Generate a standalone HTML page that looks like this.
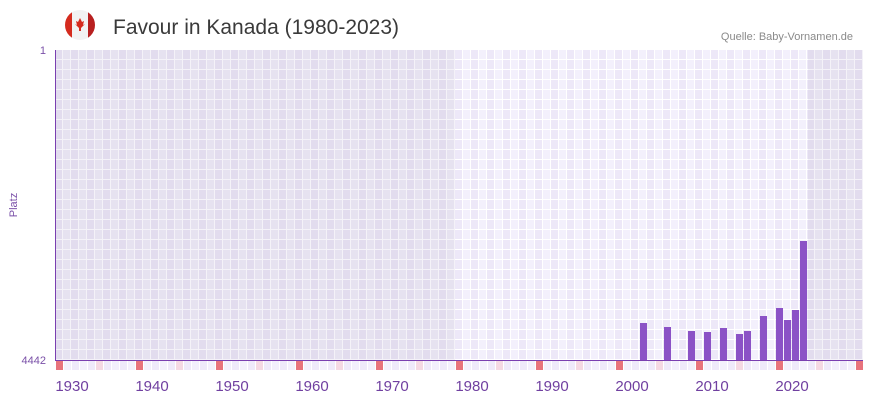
<!DOCTYPE html>
<html><head><meta charset="utf-8"><style>body{margin:0;background:#fff}svg{display:block;font-family:"Liberation Sans",sans-serif}</style></head>
<body>
<svg width="873" height="402" viewBox="0 0 873 402">
<defs>
<clipPath id="fc"><circle cx="80" cy="25" r="15"/></clipPath>
<pattern id="dk" x="55" y="50" width="16" height="10" patternUnits="userSpaceOnUse">
<rect width="16" height="10" fill="#f4f2f8"/><rect x="0" y="0" width="7" height="9" fill="#e2dcee"/><rect x="8" y="0" width="7" height="9" fill="#e6e2f0"/></pattern>
<pattern id="lt" x="55" y="50" width="16" height="10" patternUnits="userSpaceOnUse">
<rect width="16" height="10" fill="#fff"/><rect x="0" y="0" width="7" height="9" fill="#ede8f8"/><rect x="8" y="0" width="7" height="9" fill="#f3f0fc"/></pattern>
<pattern id="mk" x="56" y="361" width="80" height="9" patternUnits="userSpaceOnUse">
<rect width="80" height="9" fill="#fff"/>
<rect x="0" width="7" height="9" fill="#e8737c"/><rect x="8" width="7" height="9" fill="#f3f0fc"/><rect x="16" width="7" height="9" fill="#efeafa"/><rect x="24" width="7" height="9" fill="#f3f0fc"/><rect x="32" width="7" height="9" fill="#efeafa"/><rect x="40" width="7" height="9" fill="#f5d9e3"/><rect x="48" width="7" height="9" fill="#efeafa"/><rect x="56" width="7" height="9" fill="#f3f0fc"/><rect x="64" width="7" height="9" fill="#efeafa"/><rect x="72" width="7" height="9" fill="#f3f0fc"/></pattern>
</defs>
<g clip-path="url(#fc)">
<rect x="65" y="10" width="30" height="30" fill="#f2f2f2"/>
<rect x="64" y="10" width="8" height="30" fill="#d52b1e"/><rect x="88" y="10" width="8" height="30" fill="#b82020"/>
</g>
<path d="M80 18 l2 4 2-1 -1 4 2-1 -4 4 v3 h-2 v-3 l-4-4 2 1 -1-4 2 1z" fill="#d52b1e"/>
<text x="113" y="34" font-size="21" fill="#3a3a3a">Favour in Kanada (1980-2023)</text>
<text x="853" y="40" font-size="11" fill="#8a8a8a" text-anchor="end">Quelle: Baby-Vornamen.de</text>
<rect x="55" y="50" width="808" height="310" fill="url(#dk)"/>
<rect x="455" y="50" width="353" height="310" fill="url(#lt)"/>
<rect x="56" y="361" width="807" height="9" fill="url(#mk)"/>
<g fill="#8b52c6">
<rect x="640" y="323" width="7" height="37"/><rect x="664" y="327" width="7" height="33"/>
<rect x="688" y="331" width="7" height="29"/><rect x="704" y="332" width="7" height="28"/>
<rect x="720" y="328" width="7" height="32"/><rect x="736" y="334" width="7" height="26"/>
<rect x="744" y="331" width="7" height="29"/><rect x="760" y="316" width="7" height="44"/>
<rect x="776" y="308" width="7" height="52"/><rect x="784" y="320" width="7" height="40"/>
<rect x="792" y="310" width="7" height="50"/><rect x="800" y="241" width="7" height="119"/>
</g>
<line x1="55.5" y1="50" x2="55.5" y2="361" stroke="#7a3fb0" stroke-width="1"/>
<line x1="55" y1="360.5" x2="863" y2="360.5" stroke="#7a3fb0" stroke-width="1"/>
<g font-size="11" fill="#7a50a8" text-anchor="end"><text x="46" y="54">1</text><text x="46" y="364">4442</text></g>
<text x="17" y="205" font-size="11" fill="#7a50a8" text-anchor="middle" transform="rotate(-90 17 205)">Platz</text>
<g font-size="15" fill="#7040a0" text-anchor="middle">
<text x="72" y="391">1930</text><text x="152" y="391">1940</text><text x="232" y="391">1950</text><text x="312" y="391">1960</text><text x="392" y="391">1970</text><text x="472" y="391">1980</text><text x="552" y="391">1990</text><text x="632" y="391">2000</text><text x="712" y="391">2010</text><text x="792" y="391">2020</text>
</g>
</svg>
</body></html>
